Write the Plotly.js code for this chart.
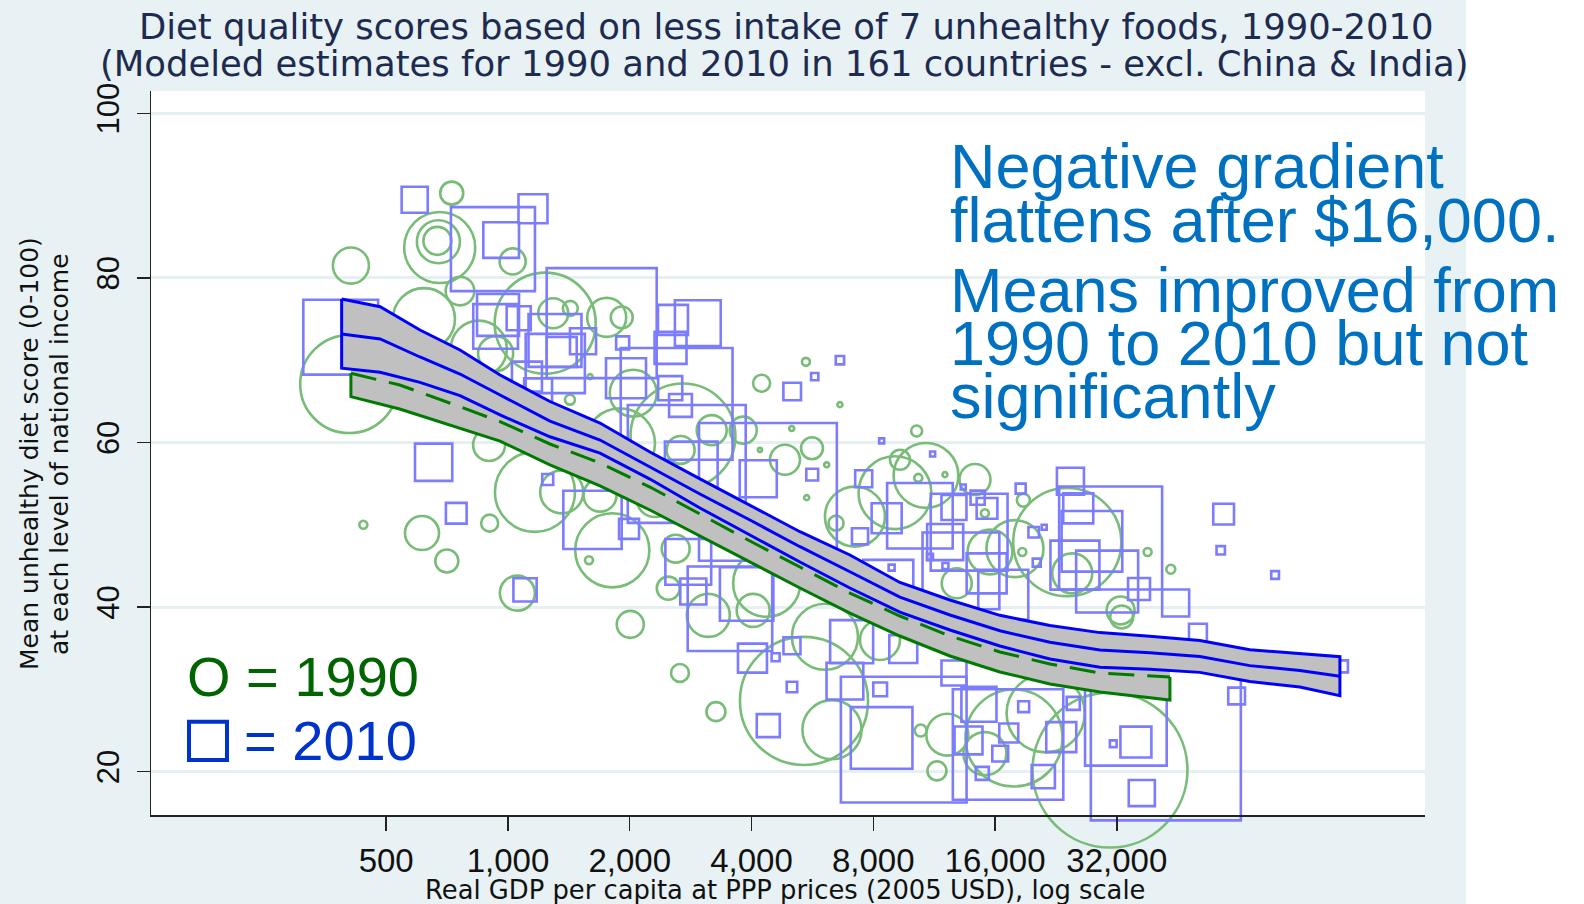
<!DOCTYPE html>
<html>
<head>
<meta charset="utf-8">
<script src="https://cdn.plot.ly/plotly-3.0.1.min.js"></script>
<style>
  html, body { margin: 0; padding: 0; background: #ffffff; }
  #chart { width: 1584px; height: 904px; }
</style>
</head>
<body>
<div id="chart"></div>
<script>
// ---------------- data ----------------
const gdpTicks = [500, 1000, 2000, 4000, 8000, 16000, 32000];
const gdpTickText = ['500', '1,000', '2,000', '4,000', '8,000', '16,000', '32,000'];
const scoreTicks = [20, 40, 60, 80, 100];

// 1990: GDP per capita (2005 USD PPP), diet score, population (millions)
const gdp1990 = [726,678,673,669,409,761,620,405,1236,1754,1911,1027,1294,1426,847,932,898,4236,5453,2040,
  2708,1892,3189,3816,1596,1423,5029,4197,4840,2672,439,613,706,901,1166,1055,1358,1811,1586,2006,
  2662,3267,5393,2491,3128,4361,4039,2598,2309,1689,6617,10240,5644,6136,12033,9314,9051,10800,14274,7208,
  10336,24136,18800,15104,18688,38136,43520,5476,15545,17920,24832,12864,32700,6472,6325,10480,11496,12194,17820,21344,
  30784,15104,32900,6077,8312];
const score1990 = [90.3,83.7,84.4,84.5,81.5,78.4,75.0,67.1,74.5,75.2,75.2,82.0,75.7,76.3,71.4,70.8,59.7,67.2,69.8,66.0,
  60.8,59.9,61.5,61.5,68.0,65.2,61.7,59.1,57.9,59.1,50.0,49.0,45.6,50.2,54.0,41.7,54.0,46.9,45.7,37.9,
  32.0,27.3,28.6,42.3,39.0,42.9,39.6,47.1,53.2,53.6,64.6,61.4,59.3,57.3,56.1,57.9,53.9,56.0,55.5,51.0,
  55.7,47.9,53.0,51.4,46.7,46.7,44.6,53.3,46.7,47.1,44.1,42.9,39.6,50.2,25.1,25.0,20.1,24.5,24.1,27.1,
  20.2,22.2,38.8,36.4,36.0];
const pop1990 = [5.3,50.4,18.5,7.8,13,8.2,38.4,96,102,15.2,4.8,6.8,9,2.25,31.4,12.3,10.2,2.9,0.64,22,
  110,49,9,7.3,0.25,1,0.25,0.16,9,7.8,0.64,11.6,5.3,2.9,64,12.3,18.5,55,0.64,7.3,
  3.2,3.6,164,5.3,18.5,45,10.9,7.8,13.7,10.9,0.25,1.2,4.8,0.25,0.25,4,53,42,9.6,36,
  0.64,117,1.7,0.64,0.64,0.64,0.8,0.25,20,32.5,16,9,7.8,2.25,35,1.44,3.6,17.6,94,61,
  240,18.5,5.3,43.6,16];

// 2010
const gdp2010 = [588,1153,918,962,386,1705,945,932,1063,1307,1533,1309,1358,1114,1187,1921,2558,2947,2523,2612,
  1958,2518,2670,2767,5043,4392,2839,4157,655,1254,745,1618,1992,1102,2791,2872,3538,3891,4022,5036,
  4401,4589,5036,6617,5732,5652,7576,10433,13808,8634,12665,14490,15287,18512,24576,30896,25696,27776,58784,57824,
  78800,19936,20288,7418,13178,12048,25216,30288,44736,36320,16768,15254,8714,8392,11216,13352,21168,11048,12064,8883,
  7073,6808,9515,8390,8320,9490,12665,17232,14600,13760,17300,16480,14880,18832,21056,23328,24976,33696,42304,35680,
  36896,31360,63296,50784,115264];
const score2010 = [89.5,88.4,83.5,84.6,72.8,74.5,75.5,74.1,75.1,72.4,72.3,69.6,71.0,68.0,66.1,72.1,74.9,74.5,71.5,64.7,
  67.8,66.6,64.5,57.4,66.2,54.0,56.9,55.6,57.6,55.5,51.4,50.6,49.5,42.1,45.5,41.9,39.8,41.6,33.8,30.3,
  25.6,33.9,35.3,70.0,68.0,56.1,55.6,51.1,49.1,50.8,52.1,53.3,52.0,54.4,55.3,48.4,52.0,48.0,51.3,46.9,
  43.9,49.1,45.4,48.6,44.4,47.9,45.1,43.1,40.5,42.2,41.5,44.1,42.7,60.2,58.6,54.6,49.7,46.1,45.0,44.8,
  35.8,31.0,23.9,24.1,30.0,34.9,32.0,23.3,28.2,23.8,24.7,22.2,19.8,27.9,19.4,24.2,28.3,25.7,23.2,23.6,
  17.4,23.4,29.2,36.9,32.8];
const pop2010 = [6.8,8.4,70.6,12.7,56,121,17.6,20,5.8,28,6.8,35,9,9,7.8,1.7,9,21,10.2,125,
  16,5.8,5.2,139,3.1,190,27.8,13.7,13.9,1.2,4.3,34,4,5.4,21,6.8,71.4,28.6,8.4,1.1,
  5.3,0.64,2.9,0.7,0.53,1.4,2.9,43,59,9,6.25,2,4.3,1,7.3,106,9,36.8,4.3,0.7,
  0.6,1.1,0.64,2.6,59,13,24,38.4,7.3,4.8,25,16,25,0.25,0.25,0.25,0.25,0.36,0.36,0.36,
  18.5,13.5,158,38,1.9,7.8,6.25,122,12.3,7.8,3.6,2.5,1.7,1.2,5.4,9,1.7,66.7,225,9.6,
  6.8,0.45,2.8,3.2,1.44];

// Local polynomial fits with 95% confidence bands
const fitGdp1990 = [409,540,761,956,1270,1689,2244,2983,3965,5271,7004,9310,12378,16451,21868,29064,43300];
const fit1990 = [68.41,66.99,64.35,62.53,59.82,57.51,54.59,51.31,48.03,44.87,41.71,38.92,36.49,34.55,33.09,31.99,31.51];
const lo1990  = [65.57,64.07,61.76,60.18,57.27,54.72,51.80,48.64,45.48,42.32,39.28,36.49,34.06,32.12,30.66,29.69,28.71];
const hi1990  = [71.25,69.91,66.94,64.88,62.37,60.30,57.38,53.98,50.58,47.42,44.14,41.35,38.92,36.98,35.52,34.29,34.31];

const fitGdp2010 = [388,483,606,761,956,1270,1689,2244,2983,3965,5271,7004,9310,12378,16451,21868,29064,38633,51353,68254,90735,113952];
const fit2010 = [73.18,72.58,70.39,68.32,65.77,62.61,60.30,57.02,53.74,50.58,47.34,44.30,41.22,39.04,37.13,35.72,34.80,34.46,34.00,32.89,32.31,31.60];
const lo2010  = [69.02,68.53,67.31,65.70,63.35,60.70,58.71,55.56,52.04,48.76,45.48,42.32,39.40,37.22,35.27,33.69,32.70,32.46,32.07,30.97,30.28,29.23];
const hi2010  = [77.44,76.50,73.67,71.24,68.20,64.98,62.37,58.85,55.58,52.37,49.16,46.33,42.99,40.86,39.00,37.77,36.90,36.45,35.93,34.81,34.35,33.97];

// ---------------- layout helpers ----------------
const W = 1584, H = 904;
const PL = 151, PR = 1425, PT = 91, PB = 815;       // plot area edges in px
const fx = px => (px - PL) / (PR - PL);
const fy = py => (PB - py) / (PB - PT);

const SANS = 'Liberation Sans, Arial, sans-serif';
const WIDE = 'DejaVu Sans, Verdana, sans-serif';

const diam = pops => pops.map(p => 10 * Math.sqrt(p));   // marker area proportional to population
const rev = a => a.slice().reverse();

// ---------------- traces ----------------
const traces = [];

traces.push({
  type: 'scatter', mode: 'markers', x: gdp1990, y: score1990, cliponaxis: false,
  marker: { symbol: 'circle-open', size: diam(pop1990), color: '#78bc78', opacity: 1,
            line: { width: 2.6, color: '#78bc78' } },
  hoverinfo: 'skip', showlegend: false
});
traces.push({
  type: 'scatter', mode: 'markers', x: gdp2010, y: score2010, cliponaxis: false,
  marker: { symbol: 'square-open', size: diam(pop2010), color: '#7c7cff', opacity: 1,
            line: { width: 2.6, color: '#7c7cff' } },
  hoverinfo: 'skip', showlegend: false
});

// 1990 band
traces.push({
  type: 'scatter', mode: 'lines', fill: 'toself', fillcolor: '#c0c0c0',
  x: fitGdp1990.concat(rev(fitGdp1990)), y: hi1990.concat(rev(lo1990)),
  line: { width: 0, color: 'rgba(0,0,0,0)' }, hoverinfo: 'skip', showlegend: false
});
const n90 = fitGdp1990.length;
traces.push({
  type: 'scatter', mode: 'lines',
  x: [fitGdp1990[0]].concat(fitGdp1990, [fitGdp1990[n90 - 1]]),
  y: [fit1990[0]].concat(lo1990, [fit1990[n90 - 1]]),
  line: { width: 3, color: '#007a00' }, hoverinfo: 'skip', showlegend: false
});
traces.push({
  type: 'scatter', mode: 'lines', x: fitGdp1990, y: fit1990,
  line: { width: 3, color: '#007a00', dash: '26px,13px' }, hoverinfo: 'skip', showlegend: false
});

// 2010 band
traces.push({
  type: 'scatter', mode: 'lines', fill: 'toself', fillcolor: '#c0c0c0',
  x: fitGdp2010.concat(rev(fitGdp2010), [fitGdp2010[0]]),
  y: hi2010.concat(rev(lo2010), [hi2010[0]]),
  line: { width: 3, color: '#0000ff' }, hoverinfo: 'skip', showlegend: false
});
traces.push({
  type: 'scatter', mode: 'lines', x: fitGdp2010, y: fit2010,
  line: { width: 3, color: '#0000ff' }, hoverinfo: 'skip', showlegend: false
});

// ---------------- annotations ----------------
const ann = [];
const txt = (text, x, y, font, extra) => Object.assign({
  text, x, y, xref: 'paper', yref: 'paper', showarrow: false,
  xanchor: 'center', yanchor: 'middle', font
}, extra || {});

const titleFont = { family: WIDE, size: 35.4, color: '#1c2b4f' };
ann.push(txt('Diet quality scores based on less intake of 7 unhealthy foods, 1990-2010', fx(786), fy(26.1), titleFont));
ann.push(txt('(Modeled estimates for 1990 and 2010 in 161 countries - excl. China &amp; India)', fx(784), fy(63.8), titleFont));

const axFont = { family: WIDE, size: 25, color: '#111111' };
ann.push(txt('Mean unhealthy diet score (0-100)', fx(29), fy(454), axFont, { textangle: -90 }));
ann.push(txt('at each level of national income', fx(59), fy(454), axFont, { textangle: -90 }));
ann.push(txt('Real GDP per capita at PPP prices (2005 USD), log scale', fx(785), fy(889.5), Object.assign({}, axFont, { size: 25.8 })));

const noteFont = { family: SANS, size: 63, color: '#0070c0' };
const noteLines = ['Negative gradient', 'flattens after $16,000.', 'Means improved from', '1990 to 2010 but not', 'significantly'];
const noteY = [166.2, 220.2, 290.2, 343.2, 396.2];
noteLines.forEach((t, i) => ann.push(txt(t, fx(948), fy(noteY[i]), noteFont, { xanchor: 'left' })));

ann.push(txt('O = 1990', fx(185), fy(676.6), { family: SANS, size: 56, color: '#006400' }, { xanchor: 'left' }));
ann.push(txt('= 2010', fx(241.5), fy(740.6), { family: SANS, size: 56, color: '#0033cc' }, { xanchor: 'left' }));

// ---------------- layout ----------------
const layout = {
  width: W, height: H,
  margin: { l: PL, r: W - PR, t: PT, b: H - PB, pad: 0 },
  paper_bgcolor: '#e8f1f3',
  plot_bgcolor: '#ffffff',
  showlegend: false,
  xaxis: {
    type: 'log',
    range: [2.1175, 5.2671],
    tickvals: gdpTicks, ticktext: gdpTickText,
    ticks: 'outside', ticklen: 14, tickwidth: 1.5, tickcolor: '#222222',
    showline: true, linecolor: '#222222', linewidth: 1.5,
    showgrid: false, zeroline: false,
    tickfont: { family: SANS, size: 33, color: '#111111' },
    ticklabelstandoff: 2
  },
  yaxis: {
    range: [14.74, 102.71],
    tickvals: scoreTicks,
    ticks: 'outside', ticklen: 13, tickwidth: 1.5, tickcolor: '#222222',
    showline: true, linecolor: '#222222', linewidth: 1.5,
    showgrid: true, gridcolor: '#e6eff1', gridwidth: 3,
    zeroline: false,
    tickangle: -90,
    tickfont: { family: SANS, size: 31, color: '#111111' },
    ticklabelstandoff: 5
  },
  shapes: [
    { type: 'rect', xref: 'paper', yref: 'paper', layer: 'below',
      x0: fx(1466), x1: fx(W) + 0.01, y0: fy(H) - 0.01, y1: fy(0) + 0.01,
      fillcolor: '#ffffff', line: { width: 0 } },
    { type: 'rect', xref: 'paper', yref: 'paper',
      x0: fx(189), x1: fx(227), y0: fy(760), y1: fy(721.7),
      fillcolor: 'rgba(0,0,0,0)', line: { width: 4, color: '#0033cc' } }
  ],
  annotations: ann
};

Plotly.newPlot('chart', traces, layout, { displayModeBar: false, staticPlot: true });
</script>
</body>
</html>
